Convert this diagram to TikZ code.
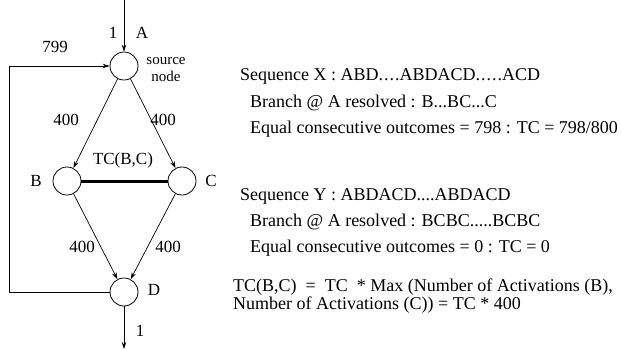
\documentclass[tikz,border=0pt]{standalone}
\usepackage{fontspec}
\setmainfont{Liberation Serif}
\usetikzlibrary{arrows.meta}
\begin{document}
\begin{tikzpicture}[x=1pt,y=-1pt,
  vertex/.style={circle,draw,line width=0.8pt,minimum size=28pt,inner sep=0pt},
  edge/.style={line width=0.7pt,-{Stealth[length=7pt,width=4.5pt]}},
  lbl/.style={font=\fontsize{17}{19}\selectfont,inner sep=0pt},
  txt/.style={font=\fontsize{18}{20}\selectfont,inner sep=0pt,anchor=west}]
\useasboundingbox (0,0) rectangle (621,349);
% nodes of the flow graph
\node[vertex] (A) at (124,66) {};
\node[vertex] (B) at (67,181) {};
\node[vertex] (C) at (182,181) {};
\node[vertex] (D) at (124,292) {};
\coordinate (in) at (124,0);
\coordinate (out) at (124,349);
\coordinate (fl) at (9,292);
\coordinate (fu) at (9,66);
% connectors
\draw[edge] (in) -- (A.north);
\draw[edge] (A) -- (B);
\draw[edge] (A) -- (C);
\draw[edge] (B) -- (D);
\draw[edge] (C) -- (D);
\draw[edge] (D.south) -- (out);
\draw[line width=3pt] (B.east) -- (C.west);
\draw[edge] (D.west) -- (fl) -- (fu) -- (A.west);
% labels of the graph
\node[lbl] (l1) at (113,33) {1};
\node[lbl] (lA) at (142,33) {A};
\node[lbl] (l799) at (55,47) {799};
\node[lbl,align=center,font=\fontsize{15}{17}\selectfont] (src) at (166,70) {source\\node};
\node[lbl] (lAB) at (66,120) {400};
\node[lbl] (lAC) at (163,120) {400};
\node[lbl] (tc) at (123,160) {TC(B,C)};
\node[lbl] (lB) at (36,181) {B};
\node[lbl] (lC) at (211,181) {C};
\node[lbl] (lBD) at (82,247) {400};
\node[lbl] (lCD) at (168,247) {400};
\node[lbl] (lD) at (154,290) {D};
\node[lbl] (l1b) at (140,331) {1};
% explanatory text
\node[txt] (sx) at (240,76) {Sequence X : ABD.\kern1pt.\kern1pt.\kern1pt.ABDACD.\kern1pt.\kern1pt.\kern1pt.\kern1pt.ACD};
\node[txt] (bx) at (250,103) {Branch @ A resolved : B...BC...C};
\node[txt] (ex) at (250,129) {Equal consecutive outcomes = 798 : TC = 798/800};
\node[txt] (sy) at (240,196) {Sequence Y : ABDACD....ABDACD};
\node[txt] (by) at (250,222) {Branch @ A resolved : BCBC.....BCBC};
\node[txt] (ey) at (250,248) {Equal consecutive outcomes = 0 : TC = 0};
\node[txt] (f1) at (233,287) {TC(B,C) \ = \ TC \ * Max (Number of Activations (B),};
\node[txt] (f2) at (233,305) {Number of Activations (C)) = TC * 400};
\end{tikzpicture}
\end{document}
